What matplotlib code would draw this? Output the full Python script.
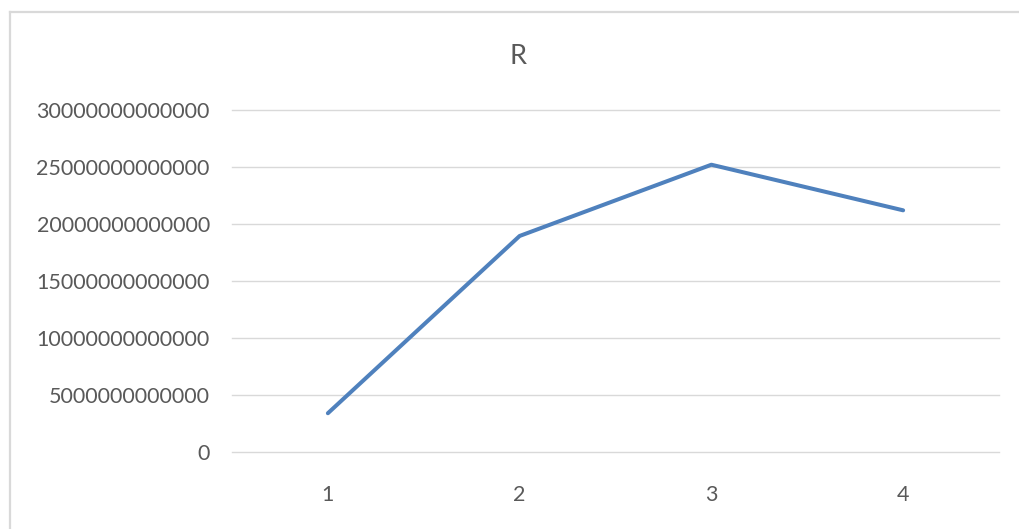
import matplotlib
matplotlib.use("Agg")
import matplotlib.pyplot as plt
from matplotlib.lines import Line2D
from matplotlib.ticker import FuncFormatter

# values
categories = ["1", "2", "3", "4"]
r_values = [3.4e12, 18.95e12, 25.2e12, 21.2e12]
y_ticks = [0, 5e12, 10e12, 15e12, 20e12, 25e12, 30e12]
title = "R"

plt.rcParams['font.family'] = ['Lato', 'DejaVu Sans']
text_col = "#595959"
grid_col = "#d9d9d9"

W, H = 1019, 529
fig = plt.figure(figsize=(W / 100, H / 100), dpi=100)
ax = fig.add_axes([232 / W, 1 - 452 / H, (999 - 232) / W, (452 - 110) / H])

x = range(len(categories))
ax.plot(x, r_values, color="#4f81bd", lw=2.9, solid_capstyle="round",
        solid_joinstyle="round", zorder=3)

ax.set_xlim(-0.5, len(categories) - 0.5)
ax.set_ylim(0, 30e12)
ax.set_xticks(list(x))
ax.set_xticklabels(categories)
ax.set_yticks(y_ticks)
ax.yaxis.set_major_formatter(FuncFormatter(lambda v, p: "%d" % round(v)))

ax.grid(axis="y", color=grid_col, lw=1.0)
for gl in ax.get_ygridlines():
    gl.set_clip_on(False)
ax.set_axisbelow(True)
for s in ax.spines.values():
    s.set_visible(False)
ax.tick_params(length=0, labelsize=15.5, labelcolor=text_col)
ax.tick_params(axis="y", pad=16)
ax.tick_params(axis="x", pad=24)

fig.text(518 / W, 1 - 57 / H, title, ha="center", va="center",
         fontsize=19.5, color=text_col)

# chart frame: only left and top edges are inside the picture
fx, fy = 9.5 / W, 1 - 11.5 / H
fig.add_artist(Line2D([fx, fx], [0, fy], transform=fig.transFigure,
                      color=grid_col, lw=1.6))
fig.add_artist(Line2D([fx, 1], [fy, fy], transform=fig.transFigure,
                      color=grid_col, lw=1.6))

fig.savefig("out.png", dpi=100, facecolor="white")
